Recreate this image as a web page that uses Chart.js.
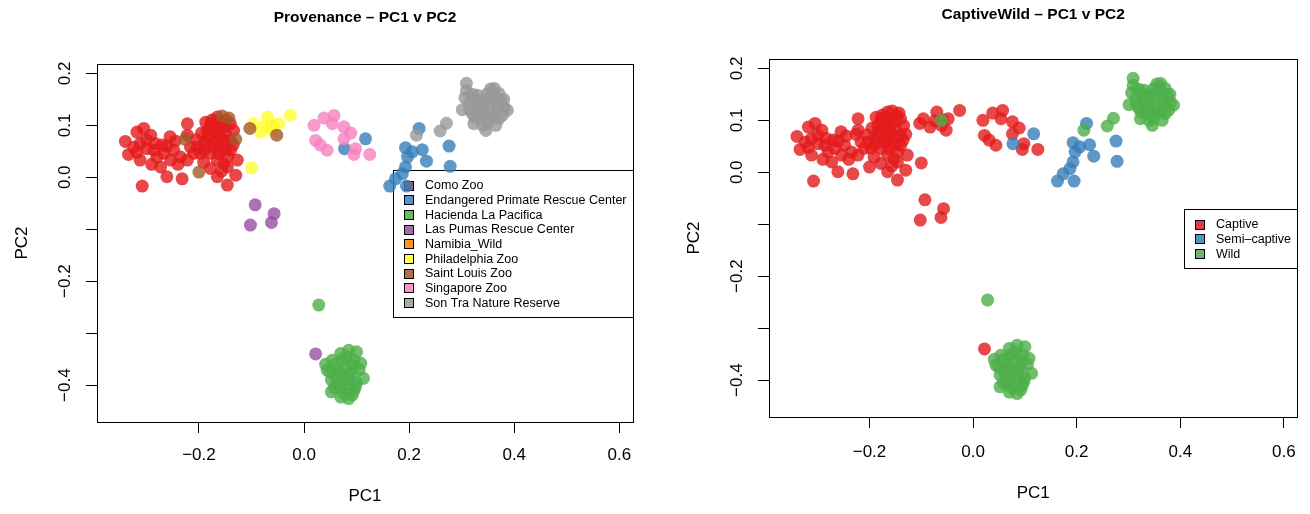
<!DOCTYPE html>
<html lang="en">
<head>
  <meta charset="UTF-8" />
  <title>PCA – Provenance and CaptiveWild</title>
  <script src="https://cdn.jsdelivr.net/npm/chart.js"></script>
  <style>
    body {
      margin: 0;
      background: white;
      width: 1310px;
      height: 514px;
      overflow: hidden;
      position: relative;
    }
    canvas { position: absolute; top: 0; }
    #provChart { left: 0; }
    #wildChart { left: 655px; }
  </style>
</head>
<body>

<canvas id="provChart" width="655" height="514"></canvas>
<canvas id="wildChart" width="655" height="514"></canvas>

<script>
  // PC1 / PC2 scores per sampling source
  const comoZoo = [
    [-0.340, 0.069], [-0.334, 0.044], [-0.318, 0.087], [-0.305, 0.094], [-0.292, 0.081],
    [-0.312, 0.033], [-0.283, 0.065], [-0.261, 0.060], [-0.254, 0.033], [-0.273, 0.020],
    [-0.261, 0.001], [-0.232, -0.003], [-0.222, 0.103], [-0.222, 0.081], [-0.216, 0.058],
    [-0.203, 0.058], [-0.222, 0.033], [-0.191, 0.029], [-0.178, 0.017], [-0.184, 0.090],
    [-0.165, 0.116], [-0.153, 0.097], [-0.140, 0.071], [-0.134, 0.090], [-0.127, 0.033],
    [-0.130, 0.004], [-0.146, -0.015], [-0.165, 0.001], [-0.308, -0.017], [-0.153, 0.026],
    [-0.172, 0.058], [-0.191, 0.065], [-0.248, 0.052], [-0.299, 0.055], [-0.324, 0.058],
    [-0.235, 0.039], [-0.280, 0.039], [-0.153, 0.052], [-0.178, 0.103], [-0.159, 0.078],
    [-0.184, 0.071], [-0.312, 0.065], [-0.286, 0.052], [-0.267, 0.046], [-0.210, 0.046],
    [-0.197, 0.046], [-0.178, 0.046], [-0.165, 0.033], [-0.140, 0.052], [-0.146, 0.020],
    [-0.140, 0.103], [-0.172, 0.090], [-0.187, 0.106], [-0.153, 0.071], [-0.165, 0.082],
    [-0.170, 0.068], [-0.160, 0.060], [-0.175, 0.110], [-0.160, 0.104], [-0.148, 0.110],
    [-0.168, 0.095], [-0.150, 0.085], [-0.182, 0.080], [-0.195, 0.085], [-0.205, 0.072],
    [-0.163, 0.046], [-0.145, 0.040], [-0.157, 0.012], [-0.135, 0.062], [-0.190, 0.052],
    [-0.245, 0.070], [-0.300, 0.072], [-0.318, 0.048], [-0.270, 0.062], [-0.255, 0.078],
    [-0.240, 0.025], [-0.290, 0.025]
  ];
  const eprc = [
    [0.117, 0.074], [0.077, 0.055], [0.219, 0.094], [0.225, 0.053], [0.233, 0.031],
    [0.276, 0.060], [0.278, 0.021], [0.193, 0.057], [0.197, 0.039], [0.193, 0.020],
    [0.187, 0.007], [0.174, -0.003], [0.163, -0.017], [0.195, -0.017], [0.206, 0.049]
  ];
  const haciendaLaPacifica = [
    [0.028, -0.246],
    [0.041, -0.360], [0.054, -0.352], [0.070, -0.339], [0.085, -0.333], [0.100, -0.336],
    [0.108, -0.358], [0.113, -0.387], [0.098, -0.403], [0.092, -0.419], [0.085, -0.426],
    [0.070, -0.423], [0.052, -0.413], [0.052, -0.390], [0.044, -0.371], [0.066, -0.371],
    [0.079, -0.365], [0.092, -0.374], [0.076, -0.390], [0.088, -0.390], [0.082, -0.406],
    [0.070, -0.403], [0.060, -0.384], [0.095, -0.352], [0.073, -0.352], [0.080, -0.345],
    [0.060, -0.360], [0.090, -0.360], [0.105, -0.370], [0.100, -0.395], [0.065, -0.400],
    [0.075, -0.415], [0.058, -0.405], [0.085, -0.380], [0.068, -0.380], [0.050, -0.375],
    [0.095, -0.410]
  ];
  const lasPumas = [
    [-0.093, -0.053], [-0.057, -0.070], [-0.102, -0.092], [-0.062, -0.087], [0.022, -0.340]
  ];
  const namibiaWild = [
    [-0.061, 0.100]
  ];
  const philadelphiaZoo = [
    [-0.096, 0.103], [-0.083, 0.087], [-0.070, 0.116], [-0.061, 0.090], [-0.048, 0.103],
    [-0.026, 0.119], [-0.100, 0.018], [-0.074, 0.099], [-0.059, 0.101]
  ];
  const saintLouisZoo = [
    [-0.226, 0.073], [-0.200, 0.010], [-0.156, 0.118], [-0.143, 0.114], [-0.130, 0.073],
    [-0.103, 0.094], [-0.052, 0.081]
  ];
  const singaporeZoo = [
    [0.019, 0.100], [0.038, 0.114], [0.057, 0.119], [0.054, 0.103], [0.076, 0.097],
    [0.089, 0.085], [0.076, 0.074], [0.022, 0.071], [0.031, 0.062], [0.044, 0.052],
    [0.098, 0.055], [0.095, 0.044], [0.125, 0.044]
  ];
  const sonTra = [
    [0.214, 0.081], [0.259, 0.089], [0.271, 0.104], [0.309, 0.181], [0.309, 0.167],
    [0.306, 0.153], [0.301, 0.130], [0.323, 0.103], [0.346, 0.090], [0.362, 0.171],
    [0.381, 0.135], [0.371, 0.161], [0.349, 0.161], [0.330, 0.142], [0.342, 0.129],
    [0.359, 0.116], [0.336, 0.113], [0.320, 0.123], [0.368, 0.132], [0.355, 0.148],
    [0.375, 0.148], [0.330, 0.158], [0.314, 0.142], [0.349, 0.103], [0.371, 0.113],
    [0.336, 0.148], [0.387, 0.129], [0.325, 0.150], [0.340, 0.135], [0.355, 0.125],
    [0.365, 0.140], [0.345, 0.150], [0.360, 0.160], [0.335, 0.125], [0.350, 0.115],
    [0.380, 0.150], [0.315, 0.130], [0.325, 0.115], [0.365, 0.100], [0.340, 0.100],
    [0.355, 0.170], [0.378, 0.120], [0.320, 0.160]
  ];

  const provenanceNames = [
    'Como Zoo', 'Endangered Primate Rescue Center', 'Hacienda La Pacifica',
    'Las Pumas Rescue Center', 'Namibia_Wild', 'Philadelphia Zoo',
    'Saint Louis Zoo', 'Singapore Zoo', 'Son Tra Nature Reserve'
  ];
  const provenancePoints = [
    comoZoo, eprc, haciendaLaPacifica, lasPumas, namibiaWild,
    philadelphiaZoo, saintLouisZoo, singaporeZoo, sonTra
  ];
  // captive status of each source, same order as provenanceNames
  const captiveWildNames = ['Captive', 'Semi–captive', 'Wild'];
  const captiveWildOf = [0, 1, 2, 0, 2, 0, 0, 0, 2];

  const xTicksShown = [-0.2, 0.0, 0.2, 0.4, 0.6];
  const yTicksShown = [0.2, 0.1, 0.0, -0.2, -0.4];

  // RColorBrewer Set1, drawn at alpha 0.8
  const set1 = [
    [228, 26, 28], [55, 126, 184], [77, 175, 74], [152, 78, 163], [255, 127, 0],
    [255, 255, 51], [166, 86, 40], [247, 129, 191], [153, 153, 153]
  ];
  const rgba = (c, a) => 'rgba(' + c[0] + ',' + c[1] + ',' + c[2] + ',' + a + ')';

  Chart.defaults.font.family = '"Liberation Sans", Arial, sans-serif';
  Chart.defaults.color = '#000';

  const fmt = v => (v < -1e-9 ? '\u2212' : '') + Math.abs(v).toFixed(1);

  // box round the plot region, as R's box()
  const boxPlugin = {
    id: 'rBox',
    afterDatasetsDraw(chart) {
      const { ctx, chartArea: a } = chart;
      ctx.save();
      ctx.strokeStyle = '#000';
      ctx.lineWidth = 1;
      ctx.strokeRect(Math.round(a.left) + 0.5, Math.round(a.top) + 0.5,
        Math.round(a.right - a.left), Math.round(a.bottom - a.top));
      ctx.restore();
    }
  };

  // legend("right", fill=...) drawn inside the plot region
  const legendPlugin = {
    id: 'rLegend',
    beforeDatasetsDraw(chart) {
      const { ctx, chartArea: a } = chart;
      const items = chart.data.datasets;
      const step = 14.67;
      ctx.save();
      ctx.font = '12.5px "Liberation Sans", Arial, sans-serif';
      let maxW = 0;
      items.forEach(d => { maxW = Math.max(maxW, ctx.measureText(d.label).width); });
      const w = Math.round(32 + maxW + 6);
      const h = Math.round(30 + (items.length - 1) * step);
      const left = Math.round(a.right) - w;
      const top = Math.round((a.top + a.bottom) / 2 - h / 2);
      ctx.strokeStyle = '#000';
      ctx.lineWidth = 1;
      ctx.strokeRect(left + 0.5, top + 0.5, w, h);
      ctx.textBaseline = 'middle';
      items.forEach((d, i) => {
        const cy = top + 15 + i * step;
        ctx.fillStyle = d.legendFill;
        ctx.fillRect(left + 11, Math.round(cy - 4.5), 9, 9);
        ctx.strokeRect(left + 11.5, Math.round(cy - 4.5) + 0.5, 9, 9);
        ctx.fillStyle = '#000';
        ctx.fillText(d.label, left + 32, cy + 1);
      });
      ctx.restore();
    }
  };

  function makeChart(id, title, datasets, lay) {
    return new Chart(document.getElementById(id), {
      type: 'scatter',
      data: { datasets },
      options: {
        responsive: false,
        animation: false,
        events: [],
        layout: { padding: { left: 0, right: lay.rightPad, top: 0, bottom: 0 } },
        elements: { point: { radius: 6.5, borderWidth: 0, hoverRadius: 6.5 } },
        plugins: {
          legend: { display: false },
          tooltip: { enabled: false },
          title: {
            display: true,
            fullSize: false,
            text: title,
            color: '#000',
            font: { size: 15.5, weight: 'bold' },
            padding: { top: lay.titleTop, bottom: lay.areaTop - lay.titleTop - 18.6 }
          }
        },
        scales: {
          x: {
            type: 'linear',
            min: -0.394,
            max: 0.626,
            afterFit: s => { s.height = 514 - lay.areaBottom; },
            border: { display: false },
            grid: { drawOnChartArea: false, drawTicks: true, tickLength: 11, color: '#000', lineWidth: 1 },
            ticks: {
              stepSize: 0.2,
              includeBounds: false,
              padding: lay.xTickPad,
              font: { size: 17 },
              maxRotation: 0,
              callback: v => xTicksShown.some(t => Math.abs(t - v) < 1e-6) ? fmt(v) : ''
            },
            title: { display: true, text: 'PC1', font: { size: 17 }, padding: { top: 0, bottom: lay.xTitlePad } }
          },
          y: {
            type: 'linear',
            min: -0.471,
            max: 0.218,
            afterFit: s => { s.width = lay.yWidth; },
            border: { display: false },
            grid: { drawOnChartArea: false, drawTicks: true, tickLength: 11, color: '#000', lineWidth: 1 },
            ticks: {
              stepSize: 0.1,
              includeBounds: false,
              padding: 4,
              minRotation: 90,
              maxRotation: 90,
              crossAlign: 'center',
              font: { size: 17 },
              callback: v => yTicksShown.some(t => Math.abs(t - v) < 1e-6) ? fmt(v) : ''
            },
            title: { display: true, text: 'PC2', font: { size: 17 }, padding: { top: lay.yTitlePad, bottom: 0 } }
          }
        }
      },
      plugins: [legendPlugin, boxPlugin]
    });
  }

  const toXY = pts => pts.map(p => ({ x: p[0], y: p[1] }));

  // later groups are painted over earlier ones, as in R
  const provSets = provenanceNames.map((name, i) => ({
    label: name,
    data: toXY(provenancePoints[i]),
    order: -i,
    backgroundColor: rgba(set1[i], 0.8),
    legendFill: rgba(set1[i], 0.85)
  }));

  const cwColours = [set1[0], set1[1], set1[2]];
  const wildSets = captiveWildNames.map((name, k) => {
    let pts = [];
    provenancePoints.forEach((grp, i) => { if (captiveWildOf[i] === k) pts = pts.concat(grp); });
    return {
      label: name,
      data: toXY(pts),
      order: -k,
      backgroundColor: rgba(cwColours[k], 0.8),
      legendFill: rgba(cwColours[k], 0.85)
    };
  });

  makeChart('provChart', 'Provenance – PC1 v PC2', provSets, {
    areaTop: 64, areaBottom: 422, yWidth: 97, rightPad: 22,
    titleTop: 8, xTickPad: 12, xTitlePad: 7, yTitlePad: 12
  });
  makeChart('wildChart', 'CaptiveWild – PC1 v PC2', wildSets, {
    areaTop: 59, areaBottom: 417, yWidth: 114, rightPad: 5,
    titleTop: 5, xTickPad: 14, xTitlePad: 10, yTitlePad: 29
  });
</script>
</body>
</html>
